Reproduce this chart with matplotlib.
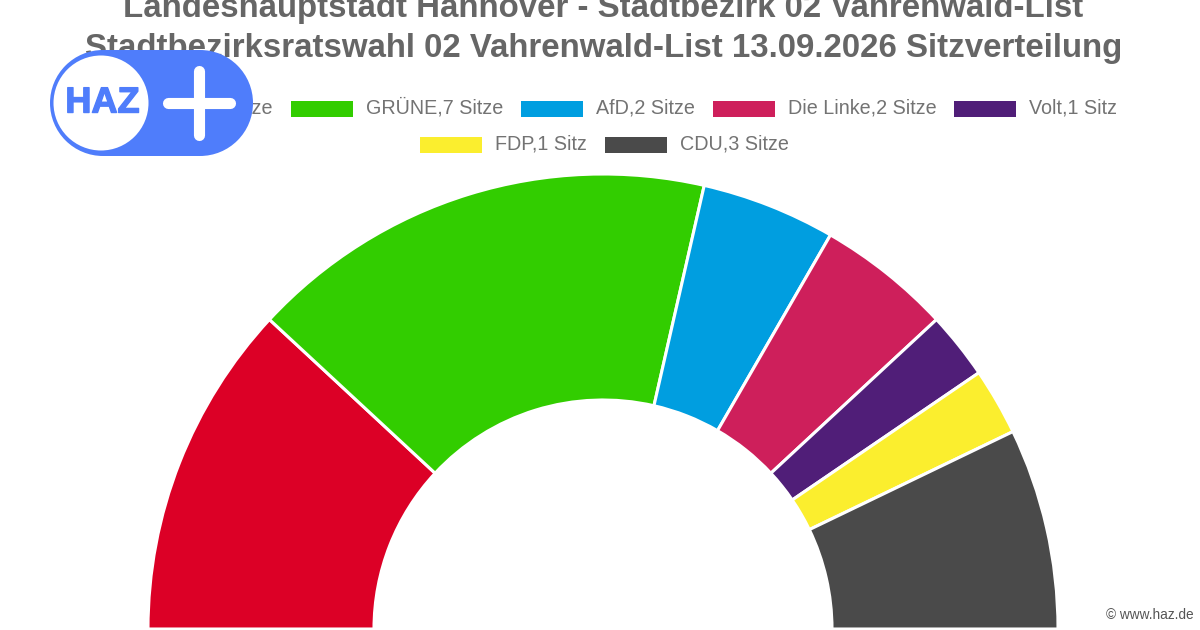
import matplotlib
matplotlib.use('Agg')
import matplotlib.pyplot as plt
import matplotlib.patheffects as pe
from matplotlib.patches import Circle, Rectangle

plt.rcParams['font.family'] = ['Liberation Sans', 'DejaVu Sans']

parties = ['SPD', 'GRÜNE', 'AfD', 'Die Linke', 'Volt', 'FDP', 'CDU']
seats = [5, 7, 2, 2, 1, 1, 3]
colors = ['#DC0026', '#32CD00', '#009EE0', '#CE1F5B', '#501E78', '#FBEE2E', '#4A4A4A']
title_lines = ['Landeshauptstadt Hannover - Stadtbezirk 02 Vahrenwald-List',
               'Stadtbezirksratswahl 02 Vahrenwald-List 13.09.2026 Sitzverteilung']

# legend boxes, left edge in px from the left, row centre in px from the top
legend_x = [91, 291, 521, 713, 954, 420, 605]
legend_y = [109, 109, 109, 109, 109, 145, 145]


def seat_label(name, n):
    return '{},{} {}'.format(name, n, 'Sitz' if n == 1 else 'Sitze')


def top(y):
    return 630 - y


fig = plt.figure(figsize=(12, 6.3), dpi=100, facecolor='white')
ax = fig.add_axes([0, 0, 1, 1])

# second half of the pie stays hidden, that gives the half circle
wedges, _ = ax.pie(seats + [sum(seats)], colors=colors + ['white'], center=(603, 1), radius=455,
                   startangle=180, counterclock=False,
                   wedgeprops={'width': 226, 'edgecolor': 'white', 'linewidth': 2.2})
wedges[-1].set_visible(False)
ax.set_xlim(0, 1200)
ax.set_ylim(0, 630)
ax.set_aspect('equal')
ax.axis('off')

# first title line is cut by the top edge in the original too
ax.text(603.5, top(8), title_lines[0], ha='center', va='center', fontsize=23.8, fontweight='bold', color='#666666')
ax.text(603.5, top(48), title_lines[1], ha='center', va='center', fontsize=23.8, fontweight='bold', color='#666666')

for name, n, color, x, y in zip(parties, seats, colors, legend_x, legend_y):
    ax.add_patch(Rectangle((x, top(y) - 8), 62, 16, facecolor=color, edgecolor='none'))
    ax.text(x + 75, top(y - 1), seat_label(name, n), ha='left', va='center', fontsize=14.2, color='#737373')

# HAZ+ badge
blue = '#4F7DFB'
ax.add_patch(Rectangle((103, top(156)), 97, 106, facecolor=blue, edgecolor='none', zorder=4))
ax.add_patch(Circle((103, top(103)), 53, facecolor=blue, edgecolor='none', zorder=4))
ax.add_patch(Circle((200, top(103)), 53, facecolor=blue, edgecolor='none', zorder=4))
ax.add_patch(Circle((101, top(103)), 47.5, facecolor='white', edgecolor='none', zorder=5))
haz = ax.text(102.5, top(103), 'HAZ', ha='center', va='center', fontsize=26, fontweight='bold', color=blue, zorder=6)
haz.set_path_effects([pe.withStroke(linewidth=1, foreground=blue)])
ax.plot([168, 230], [top(103), top(103)], color='white', lw=8, solid_capstyle='round', zorder=6)
ax.plot([198.5, 198.5], [top(71), top(135)], color='white', lw=8, solid_capstyle='round', zorder=6)

ax.text(1194, top(615), '© www.haz.de', ha='right', va='center', fontsize=9.8, color='#555555')

fig.savefig('out.png', dpi=100, facecolor='white')
